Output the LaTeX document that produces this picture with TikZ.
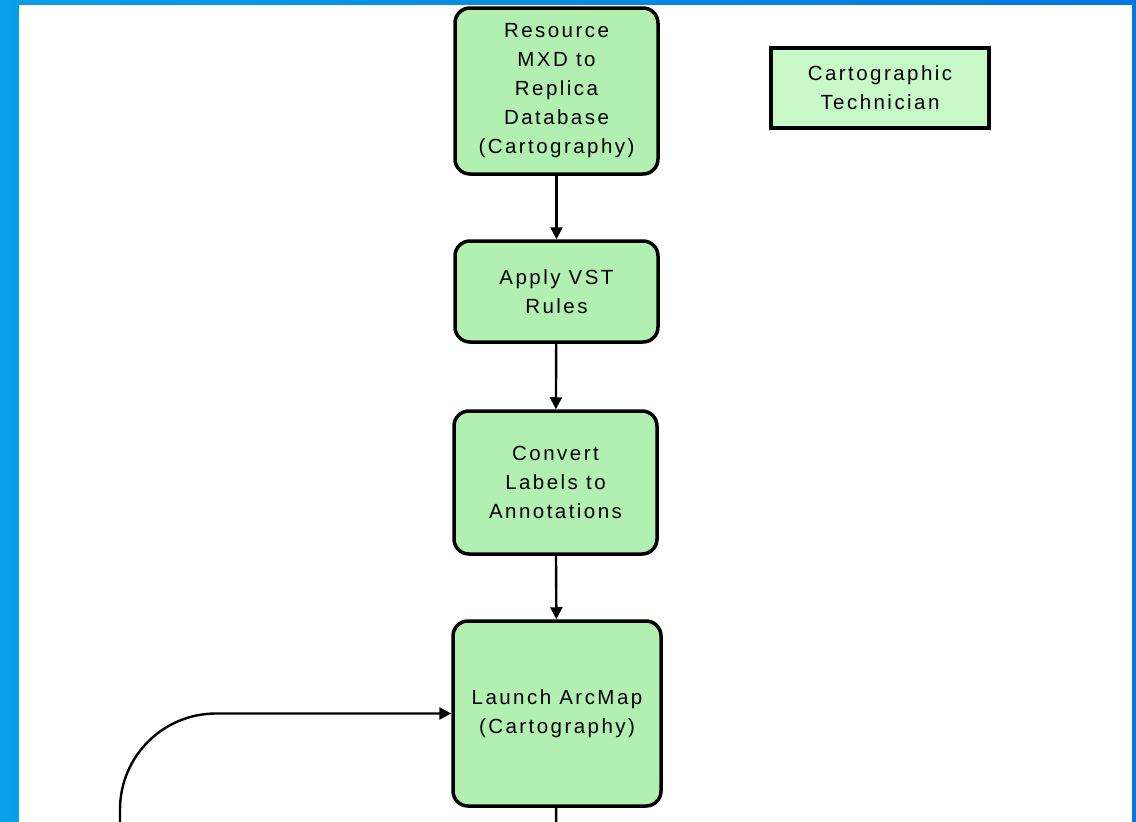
\documentclass[tikz,border=0pt]{standalone}
\usepackage{fontspec}
\newfontfamily\labfont[LetterSpace=12]{Liberation Sans}
\usetikzlibrary{arrows.meta}
\definecolor{boxgreen}{RGB}{178,240,178}
\definecolor{techgreen}{RGB}{200,248,200}
\definecolor{frameL}{RGB}{8,160,230}
\definecolor{frameR}{RGB}{0,118,224}
\tikzset{
  stepbox/.style={draw=black, line width=3.5pt, fill=boxgreen, rounded corners=15pt,
    minimum width=203pt, inner sep=0pt, align=center,
    font=\labfont\fontsize{20.5}{29}\selectfont},
  rolebox/.style={draw=black, line width=4pt, fill=techgreen,
    minimum width=218pt, minimum height=80pt, inner sep=0pt, align=center,
    font=\labfont\fontsize{20.5}{29}\selectfont},
  flow/.style={draw=black, line width=2.4pt, -{Triangle[width=12pt,length=12pt]}},
  plainflow/.style={draw=black, line width=2.4pt}
}
\begin{document}
\begin{tikzpicture}[x=1pt,y=-1pt]
\useasboundingbox (0,0) rectangle (1136,822);
\shade[left color=frameL, right color=frameR] (0,0) rectangle (1136,822);
\fill[white] (19,5) rectangle (1132,822);

\node[stepbox, minimum height=166pt] (b1) at (556.5,91)
  {Resource\\MXD to\\Replica\\Database\\(Cartography)};
\node[stepbox, minimum height=101pt] (b2) at (556.5,291.5)
  {Apply VST\\Rules};
\node[stepbox, minimum height=143pt] (b3) at (555.5,482.5)
  {Convert\\Labels to\\Annotations};
\node[stepbox, minimum width=208pt, minimum height=185pt] (b4) at (557,713.5)
  {Launch ArcMap\\(Cartography)};
\node[rolebox] (tech) at (880,88) {Cartographic\\Technician};

\coordinate (downend) at (556,830);
\coordinate (loopstart) at (120,830);

\draw[flow] (b1) -- (b2);
\draw[flow] (b2) -- (b3);
\draw[flow] (b3) -- (b4);
\draw[plainflow] (b4) -- (downend);
\draw[flow, rounded corners=96pt] (loopstart) |- (b4.west);
\end{tikzpicture}
\end{document}
